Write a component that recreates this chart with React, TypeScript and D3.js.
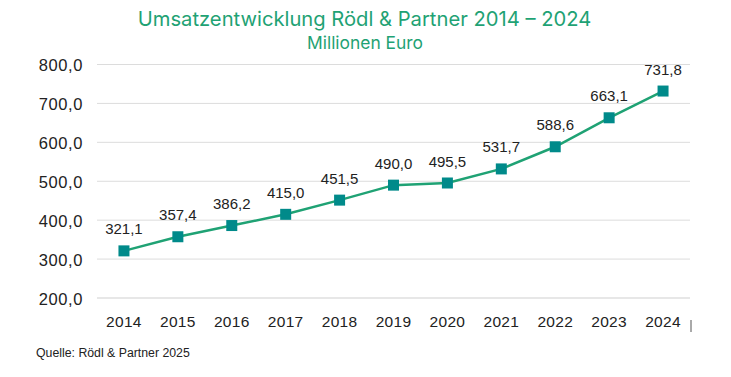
import React from "react";
import * as d3 from "d3";

const years = ["2014","2015","2016","2017","2018","2019","2020","2021","2022","2023","2024"];
const revenue = [321.1, 357.4, 386.2, 415.0, 451.5, 490.0, 495.5, 531.7, 588.6, 663.1, 731.8];
const yTicks = [200, 300, 400, 500, 600, 700, 800];
const title = "Umsatzentwicklung Rödl & Partner 2014 – 2024";
const subtitle = "Millionen Euro";
const source = "Quelle: Rödl & Partner 2025";

const W = 731, H = 377;
const left = 97, right = 690, top = 64.5, bottom = 298;

export default function App() {
  const x = d3.scaleBand().domain(years).range([left, right]);
  const y = d3.scaleLinear().domain([200, 800]).range([bottom, top]);
  const fmt = (v: number) => v.toFixed(1).replace(".", ",");
  const line = d3.line<number>()
    .x((_, i) => x(years[i])! + x.bandwidth() / 2)
    .y(d => y(d));
  const font = "'Liberation Sans', Arial, sans-serif";
  const tfont = "Inter, 'Open Sans', sans-serif";
  return (
    <svg width={W} height={H} style={{ position: "absolute", left: 0, top: 0 }}>
      <text x={364.5} y={26} textAnchor="middle" fill="#1fa274" fontFamily={tfont} fontSize={20.2}>{title}</text>
      <text x={365} y={48.5} textAnchor="middle" fill="#1fa274" fontFamily={tfont} fontSize={17.4}>{subtitle}</text>
      {yTicks.map(t => (
        <g key={t}>
          <line x1={left} x2={right} y1={y(t)} y2={y(t)} stroke={t === 200 ? "#cfcfcf" : "#dcdcdc"} strokeWidth={1} />
          <text x={83} y={y(t) + 6.5} textAnchor="end" fontFamily={font} fontSize={16.5} letterSpacing={0.6} fill="#222">{fmt(t)}</text>
        </g>
      ))}
      <line x1={691} x2={691} y1={320} y2={332} stroke="#555" strokeWidth={1} />
      {years.map(yr => (
        <text key={yr} x={x(yr)! + x.bandwidth() / 2} y={327} textAnchor="middle" fontFamily={font} fontSize={15.5} letterSpacing={0.3} fill="#222">{yr}</text>
      ))}
      <path d={line(revenue) ?? ""} fill="none" stroke="#1fa274" strokeWidth={2.5} />
      {revenue.map((v, i) => {
        const cx = x(years[i])! + x.bandwidth() / 2;
        const cy = y(v);
        return (
          <g key={i}>
            <rect x={cx - 5.5} y={cy - 5.5} width={11} height={11} fill="#008a8a" />
            <text x={cx} y={cy - 16.5} textAnchor="middle" fontFamily={font} fontSize={15} fill="#222">{fmt(v)}</text>
          </g>
        );
      })}
      <text x={36} y={357} fontFamily={font} fontSize={12.3} fill="#222">{source}</text>
    </svg>
  );
}
